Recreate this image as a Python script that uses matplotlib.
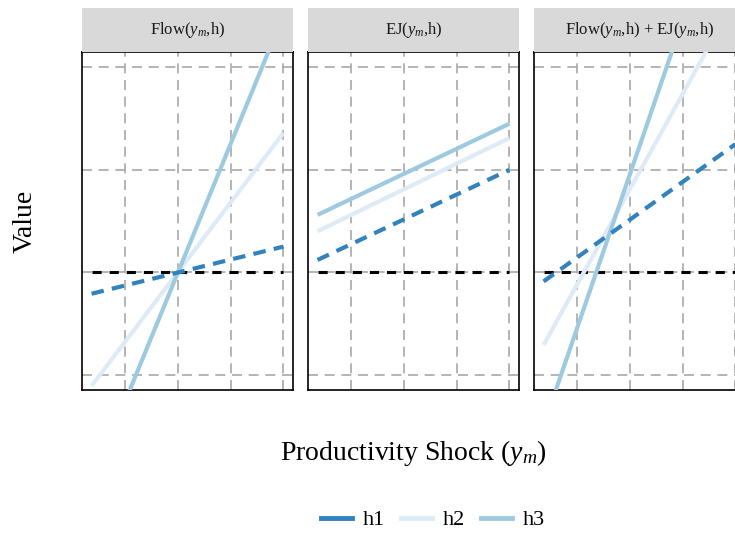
import numpy as np
import matplotlib.pyplot as plt

plt.rcParams['font.family'] = ['Liberation Serif', 'DejaVu Serif']
plt.rcParams['mathtext.fontset'] = 'custom'
plt.rcParams['mathtext.rm'] = 'Liberation Serif'
plt.rcParams['mathtext.it'] = 'Liberation Serif:italic'

# productivity shock grid (endpoints of each line)
ym = [-1.64, 2.0]

titles = ['Flow($y_m$,h)', 'EJ($y_m$,h)', 'Flow($y_m$,h) + EJ($y_m$,h)']

# value at the two endpoints, per panel
flow_h1 = [-0.21, 0.25]
flow_h2 = [-1.11, 1.36]
flow_h3 = [-2.06, 2.51]

ej_h1 = [0.12, 1.00]
ej_h2 = [0.40, 1.31]
ej_h3 = [0.56, 1.45]

tot_h1 = [-0.09, 1.25]
tot_h2 = [-0.71, 2.67]
tot_h3 = [-1.50, 3.96]

panels = [
    (flow_h1, flow_h2, flow_h3),
    (ej_h1, ej_h2, ej_h3),
    (tot_h1, tot_h2, tot_h3),
]

labels = ['h1', 'h2', 'h3']
colors = ['#3182bd', '#deebf7', '#9ecae1']

xbreaks = [-1, 0, 1, 2]
ybreaks = [-1, 0, 1, 2]

W, H = 735, 536
fig = plt.figure(figsize=(W / 100, H / 100), dpi=100)

# ggplot-style 5% expansion
xr = ym[1] - ym[0]
xlim = (ym[0] - 0.05 * xr, ym[1] + 0.05 * xr)
ylim = (-1 - 0.15, 2 + 0.15)

lefts = [82, 308, 534]
pw, top, bot = 211, 52, 390

for i, (h1, h2, h3) in enumerate(panels):
    ax = fig.add_axes([lefts[i] / W, 1 - bot / H, pw / W, (bot - top) / H])
    ax.set_xlim(xlim)
    ax.set_ylim(ylim)
    for xb in xbreaks:
        ax.axvline(xb, color='#a8a8a8', lw=1.2, dashes=(6, 4), zorder=1)
    for yb in ybreaks:
        ax.axhline(yb, color='#a8a8a8', lw=1.2, dashes=(6, 4), zorder=1)
    ax.plot(ym, [0, 0], color='black', lw=2.2, dashes=(3, 2.6), zorder=2)
    ax.plot(ym, h2, color=colors[1], lw=3, solid_capstyle='butt', zorder=3)
    ax.plot(ym, h3, color=colors[2], lw=3, solid_capstyle='butt', zorder=4)
    ax.plot(ym, h1, color=colors[0], lw=3, dashes=(3, 2), zorder=5)
    ax.set_xticks([])
    ax.set_yticks([])
    for s in ax.spines.values():
        s.set_linewidth(1.2)
        s.set_color('black')

    sx = fig.add_axes([lefts[i] / W, 1 - top / H, pw / W, 44 / H])
    sx.set_facecolor('#d9d9d9')
    sx.set_xticks([])
    sx.set_yticks([])
    for s in sx.spines.values():
        s.set_visible(False)
    sx.text(0.5, 0.5, titles[i], ha='center', va='center', fontsize=12,
            color='#1a1a1a', transform=sx.transAxes)

fig.text(25 / W, 1 - 221 / H, 'Value', rotation=90, ha='center', va='center',
         fontsize=20)
fig.text(413 / W, 1 - 453 / H, 'Productivity Shock ($y_m$)', ha='center',
         va='center', fontsize=20)

handles = [plt.Line2D([], [], color=c, lw=3.5) for c in colors]
fig.legend(handles, labels, loc='center', bbox_to_anchor=(433 / W, 1 - 520 / H),
           ncol=3, frameon=False, fontsize=16, handlelength=1.4,
           handletextpad=0.5, columnspacing=0.7)

fig.savefig('out.png', dpi=100)
